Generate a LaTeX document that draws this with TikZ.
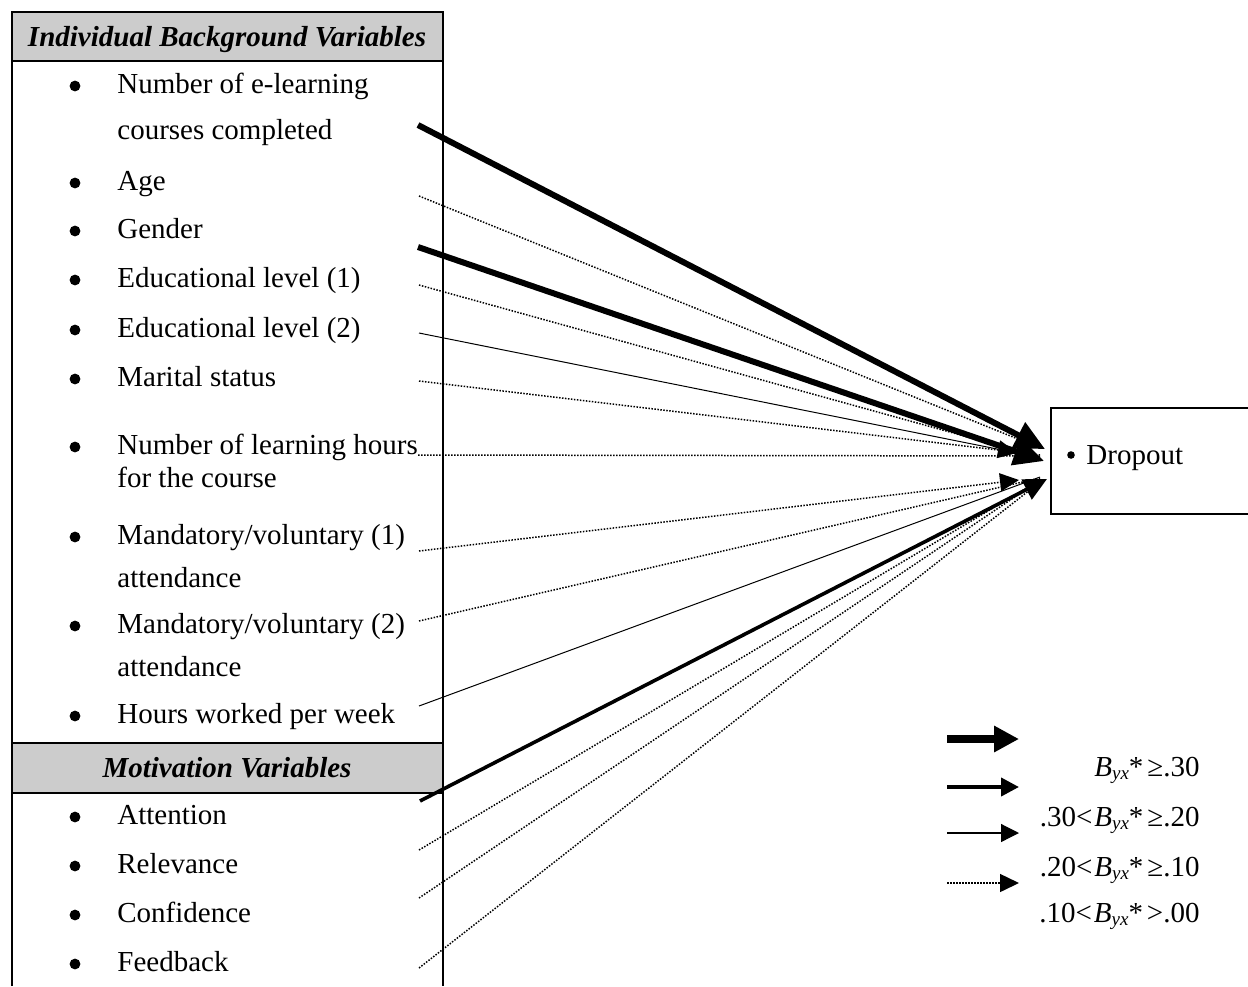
\documentclass[tikz,border=0pt]{standalone}
\usepackage{fontspec}
\setmainfont{Liberation Serif}
\usetikzlibrary{arrows.meta}
\definecolor{hdrgray}{RGB}{204,204,204}
\newcommand{\byx}{\textit{B}\raisebox{-0.25ex}{\fontsize{9.5pt}{10pt}\selectfont\textit{yx}}}
\begin{document}
\begin{tikzpicture}[x=0.5pt,y=-0.5pt,
  txt/.style={font=\fontsize{14.5pt}{17pt}\selectfont, inner sep=0pt},
  item/.style={txt, anchor=base west},
  hdr/.style={font=\fontsize{14.5pt}{17pt}\selectfont\bfseries\itshape, inner sep=0pt, anchor=base},
  leg/.style={txt, anchor=base east},
  bw/.style={line width=1pt},
  wA/.style={line width=3pt, -{Triangle[length=15pt,width=14pt]}},
  mA/.style={line width=1.8pt, -{Triangle[length=11.5pt,width=11pt]}},
  tA/.style={line width=0.5pt, -{Triangle[length=9.5pt,width=9pt]}},
  tL/.style={line width=0.5pt},
  dA/.style={line width=0.75pt, dash pattern=on 0.75pt off 0.75pt, -{Triangle[length=9.5pt,width=9pt]}},
  dL/.style={line width=0.75pt, dash pattern=on 0.75pt off 0.75pt},
]
\useasboundingbox (0,0) rectangle (1248,986);
\clip (0,0) rectangle (1248,986);

% left column box
\fill[hdrgray] (12,12) rectangle (443,61);
\fill[hdrgray] (12,743) rectangle (443,793);
\draw[bw] (12,986) -- (12,12) -- (443,12) -- (443,986);
\draw[bw] (12,61) -- (443,61);
\draw[bw] (12,743) -- (443,743);
\draw[bw] (12,793) -- (443,793);

\node[hdr] (h1) at (227,46) {Individual Background Variables};
\node[hdr] (h2) at (227,777) {Motivation Variables};

% items
\foreach \yy in {93,190,238,287,337,386,454,544,633,723,824,873,922,971}
  \fill (75,\yy-7) circle (2.7pt);

\node[item] (t1)  at (117,93)  {Number of e-learning};
\node[item] (t1b) at (117,139) {courses completed};
\node[item] (t2)  at (117,190) {Age};
\node[item] (t3)  at (117,238) {Gender};
\node[item] (t4)  at (117,287) {Educational level (1)};
\node[item] (t5)  at (117,337) {Educational level (2)};
\node[item] (t6)  at (117,386) {Marital status};
\node[item] (t7)  at (117,454) {Number of learning hours};
\node[item] (t7b) at (117,487) {for the course};
\node[item] (t8)  at (117,544) {Mandatory/voluntary (1)};
\node[item] (t8b) at (117,587) {attendance};
\node[item] (t9)  at (117,633) {Mandatory/voluntary (2)};
\node[item] (t9b) at (117,676) {attendance};
\node[item] (t10) at (117,723) {Hours worked per week};
\node[item] (t11) at (117,824) {Attention};
\node[item] (t12) at (117,873) {Relevance};
\node[item] (t13) at (117,922) {Confidence};
\node[item] (t14) at (117,971) {Feedback};

% dropout box
\node[draw, bw, anchor=north west, minimum width=115pt, minimum height=53pt, inner sep=0pt] (dropout) at (1050,407) {};
\fill (1071,455) circle (1.9pt);
\node[item] (droptext) at (1086,464) {Dropout};

% connector start/end points
\coordinate (s1) at (418,125);  \coordinate (e1) at (1045,449);
\coordinate (s2) at (419,196);  \coordinate (e2) at (1040,448);
\coordinate (s3) at (418,247);  \coordinate (e3) at (1044,461);
\coordinate (s4) at (419,285);  \coordinate (e4) at (1040,457);
\coordinate (s5) at (419,333);  \coordinate (e5) at (1017,453);
\coordinate (s6) at (419,381);  \coordinate (e6) at (1040,455);
\coordinate (s7) at (418,455);  \coordinate (e7) at (1040,456);
\coordinate (s8) at (419,551);  \coordinate (e8) at (1019,480);
\coordinate (s9) at (419,621);  \coordinate (e9) at (1040,478);
\coordinate (s10) at (419,706); \coordinate (e10) at (1040,477);
\coordinate (s11) at (420,801); \coordinate (e11) at (1047,479);
\coordinate (s12) at (419,850); \coordinate (e12) at (1040,480);
\coordinate (s13) at (419,898); \coordinate (e13) at (1040,480);
\coordinate (s14) at (419,968); \coordinate (e14) at (1040,482);

\draw[dL] (s2) -- (e2);
\draw[dL] (s4) -- (e4);
\draw[dL] (s6) -- (e6);
\draw[dL] (s7) -- (e7);
\draw[dL] (s9) -- (e9);
\draw[dL] (s12) -- (e12);
\draw[dL] (s13) -- (e13);
\draw[dL] (s14) -- (e14);
\draw[dA] (s8) -- (e8);
\draw[tA] (s5) -- (e5);
\draw[tL] (s10) -- (e10);
\draw[mA] (s11) -- (e11);
\draw[wA] (s1) -- (e1);
\draw[wA] (s3) -- (e3);

% legend
\coordinate (la1) at (947,739); \coordinate (lb1) at (1019,739);
\coordinate (la2) at (947,787); \coordinate (lb2) at (1019,787);
\coordinate (la3) at (947,833); \coordinate (lb3) at (1019,833);
\coordinate (la4) at (947,883); \coordinate (lb4) at (1019,883);
\draw[line width=3.6pt, -{Triangle[length=12.5pt,width=12.5pt]}] (la1) -- (lb1);
\draw[line width=2pt, -{Triangle[length=9pt,width=9pt]}] (la2) -- (lb2);
\draw[line width=0.6pt, -{Triangle[length=9pt,width=9pt]}] (la3) -- (lb3);
\draw[dA] (la4) -- (lb4);

\node[leg] (g1) at (1200,776) {\byx*\hspace{2pt}≥.30};
\node[leg] (g2) at (1200,826) {.30<\hspace{1pt}\byx*\hspace{2pt}≥.20};
\node[leg] (g3) at (1200,876) {.20<\hspace{1pt}\byx*\hspace{2pt}≥.10};
\node[leg] (g4) at (1200,922) {.10<\hspace{1pt}\byx*\hspace{2pt}>.00};
\end{tikzpicture}
\end{document}
